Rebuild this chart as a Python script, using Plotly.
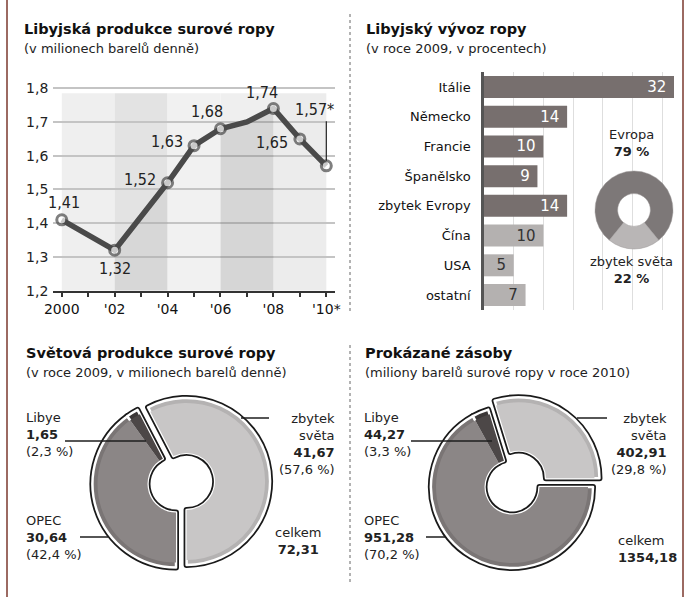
import plotly.graph_objects as go

W, H = 688, 597
FONT = "DejaVu Sans"
COND = "DejaVu Sans Condensed, DejaVu Sans"
INK = "#1e1e1e"

# ---------------- data: Libyan production (mil. barrels / day)
years = [2000, 2002, 2004, 2005, 2006, 2007, 2008, 2009, 2010]
production = [1.41, 1.32, 1.52, 1.63, 1.68, 1.70, 1.74, 1.65, 1.57]
point_labels = ["1,41", "1,32", "1,52", "1,63", "1,68", "", "1,74", "1,65", "1,57*"]
year_ticks = [2000, 2001, 2002, 2003, 2004, 2005, 2006, 2007, 2008, 2009, 2010]
year_ticktext = ["2000", "", "'02", "", "'04", "", "'06", "", "'08", "", "'10*"]

# ---------------- data: Libyan oil export 2009 (%)
export_countries = ["Itálie", "Německo", "Francie", "Španělsko", "zbytek Evropy", "Čína", "USA", "ostatní"]
export_share = [32, 14, 10, 9, 14, 10, 5, 7]
export_europe = [True, True, True, True, True, False, False, False]
region_labels = ["Evropa", "zbytek světa"]
region_share = [79, 22]

# ---------------- data: world production 2009
world_labels = ["zbytek světa", "OPEC", "Libye"]
world_values = [41.67, 30.64, 1.65]
world_pct = ["57,6 %", "42,4 %", "2,3 %"]
world_total = 72.31

# ---------------- data: proven reserves 2010
reserve_labels = ["zbytek světa", "OPEC", "Libye"]
reserve_values = [402.91, 951.28, 44.27]
reserve_pct = ["29,8 %", "70,2 %", "3,3 %"]
reserve_total = 1354.18

# ---------------- style: label offsets (px) for the line chart
label_dx = [2, 0, -28, -27, -13, 0, -11, -28, -12]
label_dy = [-17, 18, -3, -4, -17, 0, -16, 4, -56]


def px(x):
    return x / W


def py(y):
    return 1 - y / H


def cz(v):
    return f"{v:.2f}".replace(".", ",")


fig = go.Figure()
shapes = []
ann = []

# ---- line chart background columns
BAND_TOP = 1.785
col_colors = ["#efefef", "#e3e3e3", "#f1f1f1", "#efefef", "#ececec"]
under_fill = ["rgba(0,0,0,0.0)", "rgba(0,0,0,0.05)", "rgba(0,0,0,0.0)", "rgba(0,0,0,0.10)", "rgba(0,0,0,0.0)"]
even_years = [y for y in year_ticks if y % 2 == 0]
for i in range(len(even_years) - 1):
    a, b = even_years[i], even_years[i + 1]
    shapes.append(dict(type="rect", xref="x", yref="y", x0=a, x1=b, y0=1.2, y1=BAND_TOP,
                       fillcolor=col_colors[i], line=dict(width=0), layer="below"))
    xs = [x for x in years if a <= x <= b]
    ys = [v for x, v in zip(years, production) if a <= x <= b]
    fig.add_trace(go.Scatter(x=xs, y=ys, mode="none", fill="tozeroy", fillcolor=under_fill[i],
                             hoverinfo="skip", showlegend=False, xaxis="x", yaxis="y"))

fig.add_trace(go.Scatter(
    x=years, y=production, mode="lines+markers",
    line=dict(color="#4a4a4a", width=5.5),
    marker=dict(color="white", size=[0 if t == "" else 10 for t in point_labels],
                line=dict(color="#4a4a4a", width=3)),
    hoverinfo="skip", showlegend=False, xaxis="x", yaxis="y"))

for x, v, t, dx, dy in zip(years, production, point_labels, label_dx, label_dy):
    if not t:
        continue
    ann.append(dict(x=x, y=v, xref="x", yref="y", text=t, showarrow=False,
                    xshift=dx, yshift=-dy, font=dict(family=COND, size=16, color="#222")))
# leader of the last (estimated) value
ann.append(dict(x=years[-1], y=production[-1], xref="x", yref="y", text="", showarrow=True,
                ax=0, ay=-46, arrowhead=0, arrowwidth=1.2, arrowcolor="#222", standoff=5))

# ---- export bars
bar_dark, bar_light = "#776f6e", "#b4b1b0"
fig.add_trace(go.Bar(
    x=export_share, y=export_countries, orientation="h",
    marker=dict(color=[bar_dark if e else bar_light for e in export_europe], line=dict(width=0)),
    text=[f"{v}\u00a0" for v in export_share], textposition="inside", insidetextanchor="end",
    textangle=0,
    textfont=dict(family=FONT, size=15, color=["white" if e else "#333" for e in export_europe]),
    constraintext="none", hoverinfo="skip", showlegend=False, xaxis="x2", yaxis="y2"))

# ---- small region donut
reg_rot = 180 + 0.5 * 360 * region_share[1] / sum(region_share)
fig.add_trace(go.Pie(
    values=region_share, labels=region_labels, sort=False, direction="clockwise",
    rotation=reg_rot, hole=0.42, textinfo="none", hoverinfo="skip", showlegend=False,
    automargin=False,
    marker=dict(colors=["#7d7878", "#b9b6b6"], line=dict(color="#9a9696", width=0.5)),
    domain=dict(x=[px(595), px(673)], y=[py(249), py(171)])))

# ---- big donuts (outline layer, rim layer, main layer)
rim_colors = ["#b4b2b2", "#7a7575", "#3c3838"]
main_colors = ["#c8c6c6", "#8b8686", "#4c4747"]


def donut(values, cx, cy, r, shift, hole_r, end_angle):
    rest, opec, libya = values
    slices = [rest, opec - libya, libya]
    rot = end_angle - 360 * rest / sum(slices)
    layers = [
        (r, rim_colors, "#1a1a1a", 6),
        (r, rim_colors, "white", 2.5),
        (r - 5, main_colors, "rgba(0,0,0,0)", 0),
    ]
    for rad, cols, lc, lw in layers:
        pull = shift / rad
        half = rad * (1 + pull)
        dom = dict(x=[px(cx - half), px(cx + half)], y=[py(cy + half), py(cy - half)])
        fig.add_trace(go.Pie(
            values=slices, sort=False, direction="clockwise", rotation=rot, hole=hole_r / rad,
            pull=[pull, 0, 0], textinfo="none", hoverinfo="skip", showlegend=False, automargin=False,
            marker=dict(colors=cols, line=dict(color=lc, width=lw)), domain=dom))


donut(world_values, 176, 484, 83.5, 10.9, 28.5, 180)
donut(reserve_values, 512, 487, 81, 10.9, 27.5, 90)

# ---- titles
def title(x, y, t, sub):
    ann.append(dict(x=px(x), y=py(y), xref="paper", yref="paper", xanchor="left", yanchor="middle",
                    text=f"<b>{t}</b>", showarrow=False, font=dict(family=FONT, size=14.5, color="#111")))
    ann.append(dict(x=px(x), y=py(y + 19), xref="paper", yref="paper", xanchor="left", yanchor="middle",
                    text=sub, showarrow=False, font=dict(family=FONT, size=13, color="#222")))


title(22, 29, "Libyjská produkce surové ropy", "(v milionech barelů denně)")
title(364, 29, "Libyjský vývoz ropy", "(v roce 2009, v procentech)")
title(24, 353, "Světová produkce surové ropy", "(v roce 2009, v milionech barelů denně)")
title(363, 353, "Prokázané zásoby", "(miliony barelů surové ropy v roce 2010)")


def note(x, y, t, xanchor="left", align="left"):
    ann.append(dict(x=px(x), y=py(y), xref="paper", yref="paper", xanchor=xanchor, yanchor="middle",
                    align=align, text=t, showarrow=False, font=dict(family=FONT, size=13, color="#222")))


note(631, 143, f"{region_labels[0]}<br><b>{region_share[0]} %</b>", "center", "center")
note(631, 270, f"{region_labels[1]}<br><b>{region_share[1]} %</b>", "center", "center")

# world production labels
note(24, 434, f"{world_labels[2]}<br><b>{cz(world_values[2])}</b><br>({world_pct[2]})")
note(24, 537, f"{world_labels[1]}<br><b>{cz(world_values[1])}</b><br>({world_pct[1]})")
note(337, 444, f"zbytek<br>světa<br><b>{cz(world_values[0])}</b><br>({world_pct[0]})", "right", "right")
note(298, 541, f"celkem<br><b>{cz(world_total)}</b>", "center", "center")

# reserves labels
note(362, 434, f"{reserve_labels[2]}<br><b>{cz(reserve_values[2])}</b><br>({reserve_pct[2]})")
note(362, 537, f"{reserve_labels[1]}<br><b>{cz(reserve_values[1])}</b><br>({reserve_pct[1]})")
note(669, 444, f"zbytek<br>světa<br><b>{cz(reserve_values[0])}</b><br>({reserve_pct[0]})", "right", "right")
note(616, 549, f"celkem<br><b>{cz(reserve_total)}</b>")

# ---- decorative lines (frame, separators, leaders)
def pline(x0, y0, x1, y1, color=INK, width=1.5, dash="solid"):
    shapes.append(dict(type="line", xref="paper", yref="paper", x0=px(x0), x1=px(x1), y0=py(y0), y1=py(y1),
                       line=dict(color=color, width=width, dash=dash), layer="above"))


pline(7, 0, 7, H, "#9c6a62", 2)
pline(683, 0, 683, H, "#9c6a62", 2)
pline(350, 14, 350, 312, "#666", 1, "dot")
pline(350, 345, 350, 582, "#666", 1, "dot")
pline(65, 441, 146, 441)
pline(80, 537, 108, 537)
pline(241, 418, 269, 418)
pline(411, 441, 492, 441)
pline(426, 537, 446, 537)
pline(577, 418, 607, 418)

fig.update_layout(
    width=W, height=H, margin=dict(l=0, r=0, t=0, b=0, pad=0, autoexpand=False),
    paper_bgcolor="white", plot_bgcolor="rgba(0,0,0,0)",
    separators=", ", bargap=0.26, showlegend=False,
    shapes=shapes, annotations=ann,
    xaxis=dict(domain=[px(53.3), px(335.3)], range=[1999.68, 2010.34], anchor="y", automargin=False,
               tickvals=year_ticks, ticktext=year_ticktext, ticks="outside", ticklen=5, tickwidth=1.5,
               tickcolor="#333", showline=True, linecolor="#333", linewidth=1.5, showgrid=False,
               zeroline=False, tickfont=dict(family=FONT, size=14, color="#111")),
    yaxis=dict(domain=[py(290.7), py(84.9)], range=[1.2, 1.81], anchor="x", dtick=0.1, tick0=1.2,
               automargin=False,
               tickformat=".1f", showgrid=True, gridcolor="#c4c4c4", gridwidth=1.5, zeroline=False,
               ticks="", ticklabelstandoff=4, tickfont=dict(family=FONT, size=14, color="#222")),
    xaxis2=dict(domain=[px(484), px(674)], range=[0, max(export_share)], anchor="y2", dtick=5,
                automargin=False,
                showticklabels=False, showgrid=True, gridcolor="#dedede", gridwidth=1, zeroline=False),
    yaxis2=dict(domain=[py(309.9), py(72.1)], anchor="x2", autorange="reversed", showline=True,
                automargin=False,
                linecolor="#555", linewidth=2.5, ticks="", ticklabelstandoff=8,
                tickfont=dict(family=FONT, size=13, color="#111")),
)

fig.write_html("out.html", config={"displayModeBar": False},
               post_script="document.body.style.margin='0px';")
